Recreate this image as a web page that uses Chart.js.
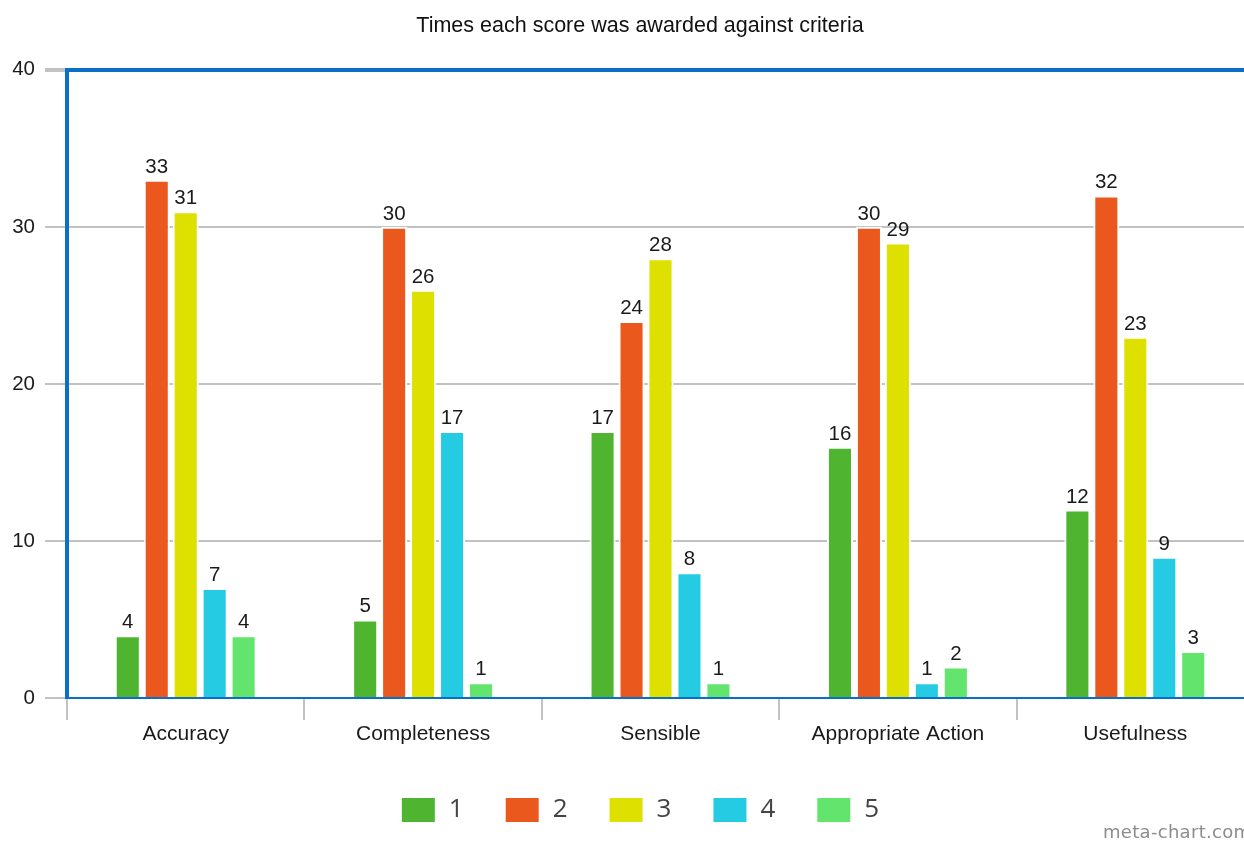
<!DOCTYPE html>
<html>
<head>
<meta charset="utf-8">
<title>Times each score was awarded against criteria</title>
<script src="https://cdn.jsdelivr.net/npm/chart.js@4.4.0/dist/chart.umd.min.js"></script>
<style>
    html, body { margin: 0; padding: 0; background: #fff; overflow: hidden; }
    #wrap { position: relative; width: 1244px; height: 841px; overflow: hidden; }
    #chart { position: absolute; left: 0; top: 0; }
    .credit {
        position: absolute; left: 1103px; top: 821px;
        font: 18px "DejaVu Sans", sans-serif; color: #8c8c8c;
        white-space: nowrap; letter-spacing: 0.3px;
    }
</style>
</head>
<body>
<div id="wrap">
    <canvas id="chart" width="1280" height="841"></canvas>
    <div class="credit">meta-chart.com</div>
</div>
<script>
// Les données du graphique
const criteria = ['Accuracy', 'Completeness', 'Sensible', 'Appropriate Action', 'Usefulness'];
const scoreNames = ['1', '2', '3', '4', '5'];
const score1 = [4, 5, 17, 16, 12];
const score2 = [33, 30, 24, 30, 32];
const score3 = [31, 26, 28, 29, 23];
const score4 = [7, 17, 8, 1, 9];
const score5 = [4, 1, 1, 2, 3];
const yTicks = [0, 10, 20, 30, 40];

const colors = ['#4fb531', '#eb581e', '#dee000', '#25cbe2', '#63e46c'];
const BLUE = '#0a6fc6';
const GREY = '#c2c2c2';

// Valeurs au-dessus des barres
const valueLabels = {
    id: 'valueLabels',
    afterDatasetsDraw(chart) {
        const ctx = chart.ctx;
        ctx.save();
        ctx.font = '20.5px "Liberation Sans", Arial, sans-serif';
        ctx.fillStyle = '#1a1a1a';
        ctx.textAlign = 'center';
        ctx.textBaseline = 'alphabetic';
        chart.data.datasets.forEach((ds, i) => {
            chart.getDatasetMeta(i).data.forEach((bar, j) => {
                ctx.fillText(String(ds.data[j]), bar.x, bar.y - 7);
            });
        });
        ctx.restore();
    }
};

Chart.defaults.font.family = '"Liberation Sans", Arial, sans-serif';
Chart.defaults.color = '#1a1a1a';

const series = [score1, score2, score3, score4, score5];

new Chart(document.getElementById('chart'), {
    type: 'bar',
    data: {
        labels: criteria,
        datasets: series.map((vals, i) => ({
            label: scoreNames[i],
            data: vals,
            backgroundColor: colors[i],
            borderColor: '#ffffff',
            borderWidth: 2,
            categoryPercentage: 0.61,
            barPercentage: 0.9
        }))
    },
    options: {
        responsive: false,
        animation: false,
        layout: { padding: { left: 0, right: 0, top: 0, bottom: 8 } },
        plugins: {
            title: {
                display: true,
                text: 'Times each score was awarded against criteria',
                color: '#111',
                font: { size: 21.5, weight: 'normal' },
                padding: { top: 13, bottom: 31 }
            },
            legend: {
                position: 'bottom',
                labels: {
                    boxWidth: 35,
                    boxHeight: 26,
                    padding: 41,
                    color: '#444',
                    font: { family: '"Open Sans", "DejaVu Sans", sans-serif', size: 26 }
                }
            },
            tooltip: { enabled: false }
        },
        scales: {
            x: {
                grid: {
                    drawOnChartArea: false,
                    color: GREY,
                    lineWidth: 2,
                    tickLength: 22
                },
                border: { color: BLUE, width: 2 },
                ticks: { padding: 2, font: { size: 21 }, color: '#1a1a1a' },
                afterFit: (scale) => { scale.height = 58; }
            },
            y: {
                min: 0,
                max: 40,
                afterBuildTicks: (scale) => { scale.ticks = yTicks.map(v => ({ value: v })); },
                grid: {
                    color: (c) => (c.tick && (c.tick.value === 40 || c.tick.value === 0)) ? BLUE : GREY,
                    lineWidth: (c) => (c.tick && c.tick.value === 40) ? 4 : 2,
                    tickColor: GREY,
                    tickLength: 22
                },
                border: { color: BLUE, width: 4 },
                ticks: { padding: 10, font: { size: 20.5 }, color: '#1a1a1a' },
                afterFit: (scale) => { scale.width = 67; }
            },
            // marge à droite pour recentrer le titre et la légende
            y2: {
                position: 'right',
                grid: { display: false },
                border: { display: false },
                ticks: { display: false },
                afterFit: (scale) => { scale.width = 26; }
            }
        }
    },
    plugins: [valueLabels]
});
</script>
</body>
</html>
